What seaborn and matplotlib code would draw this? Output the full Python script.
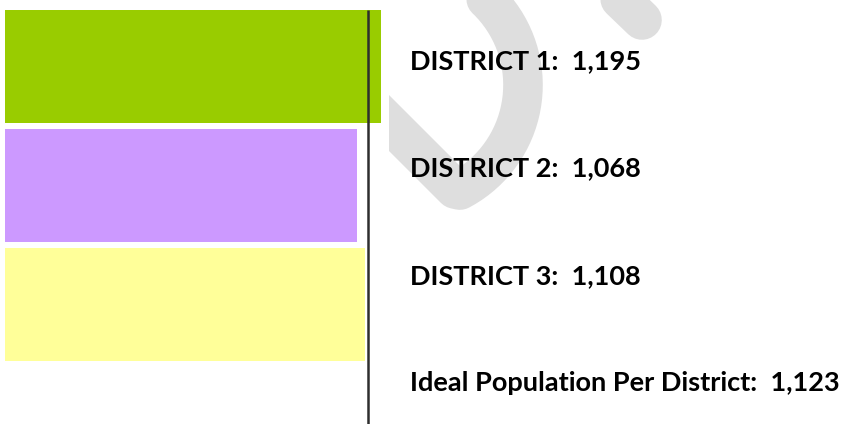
import matplotlib
matplotlib.use("Agg")
import numpy as np
import pandas as pd
import matplotlib.pyplot as plt
import seaborn as sns
from matplotlib.patches import Rectangle, PathPatch
from matplotlib.path import Path
from matplotlib.transforms import Affine2D

# data
districts = ["DISTRICT 1", "DISTRICT 2", "DISTRICT 3"]
population = [1195, 1068, 1108]
bar_colors = ["#99CC00", "#CC99FF", "#FFFF99"]
ideal_label = "Ideal Population Per District"
ideal_population = 1123

W, H = 843, 424
sns.set_theme(style="white")
plt.rcParams["font.family"] = ["Lato", "DejaVu Sans"]

fig = plt.figure(figsize=(W / 100, H / 100), dpi=100)
fig.patch.set_facecolor("white")
# pixel coords (y down) -> figure
px = Affine2D().scale(1 / W, -1 / H).translate(0, 1) + fig.transFigure

# faint watermark strokes behind everything
wm = dict(facecolor="none", edgecolor="#DEDEDE", lw=28.5, capstyle="round",
          joinstyle="round", transform=px, zorder=-3)
ang = np.radians(np.linspace(62, -60, 40))
arc = np.column_stack([404 + 119 * np.cos(ang), 85 + 119 * np.sin(ang)])
main = np.vstack([[[330, 64], [455, 189]], arc])
fig.add_artist(PathPatch(Path(main), **wm))
fig.add_artist(PathPatch(Path([[590, -30], [642, 20]]), **wm))
fig.add_artist(PathPatch(Path([[240, -30], [268, -2]]), **wm))

# white chart area hides the watermark
fig.add_artist(Rectangle((0, 4), 389, 420, facecolor="white", edgecolor="none",
                         transform=px, zorder=-2))

ax = fig.add_axes([5 / W, 0, 384 / W, 420 / H])
df = pd.DataFrame({"district": districts, "population": population})
sns.barplot(data=df, y="district", x="population", hue="district",
            palette=bar_colors, saturation=1, width=0.95, legend=False,
            orient="h", linewidth=0, ax=ax)
ax.set_xscale("log")
ax.set_xlim(205, 1240)
ax.set_ylim(3.004, -0.525)
ax.vlines(ideal_population, -0.95 / 2, ax.get_ylim()[0], color="#2E2E2E",
          lw=1.8, zorder=5)
ax.set_axis_off()

labels = [f"{d}:  {p:,}" for d, p in zip(districts, population)]
labels.append(f"{ideal_label}:  {ideal_population:,}")
baselines = [69.5, 176, 284, 391]
for lab, b in zip(labels, baselines):
    fig.text(410 / W, 1 - b / H, lab, fontsize=19.5, fontweight="bold",
             color="black", ha="left", va="baseline")

fig.savefig("out.png", dpi=100)
